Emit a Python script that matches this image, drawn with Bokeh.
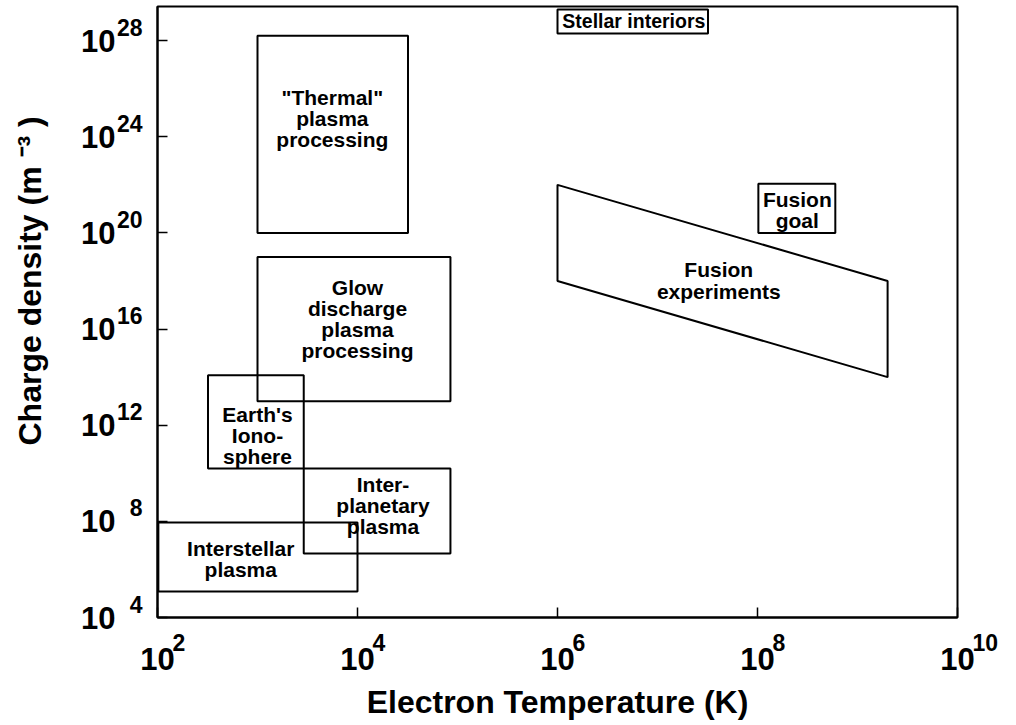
from bokeh.plotting import figure
from bokeh.models import Range1d, FixedTicker, ColumnDataSource
from bokeh.core.properties import value
from bokeh.embed import file_html
from bokeh.resources import INLINE

# ---------------- data ----------------
# rectangular regions: electron temperature (K) and charge density (m^-3)
region_names = ["Thermal plasma processing", "Glow discharge plasma processing",
                "Earth's ionosphere", "Interplanetary plasma", "Interstellar plasma",
                "Fusion goal", "Stellar interiors"]
t_low = [1e3, 1e3, 3.2e2, 2.9e3, 1.02e2, 1.02e8, 1.0e6]
t_high = [3.2e4, 8.5e4, 2.9e3, 8.5e4, 1.0e4, 6.0e8, 3.2e7]
n_low = [1e20, 1e13, 1.6e10, 4.6e6, 1.2e5, 1e20, 2.0e28]
n_high = [1.6e28, 1e19, 1.2e14, 1.6e10, 9.0e7, 1.1e22, 1.95e29]

# fusion experiments parallelogram
fusion_t = [1e6, 2e9, 2e9, 1e6]
fusion_n = [1e22, 1e18, 1e14, 1e18]

# region labels
label_text = ['"Thermal"\nplasma\nprocessing', "Glow\ndischarge\nplasma\nprocessing",
              "Earth's\nIono-\nsphere", "Inter-\nplanetary\nplasma",
              "Interstellar\nplasma", "Fusion\nexperiments", "Fusion\ngoal"]
label_t = [5.6e3, 1.0e4, 1.0e3, 1.8e4, 6.8e2, 4.1e7, 2.5e8]
label_n = [5.8e24, 2.6e16, 3.7e11, 4.6e8, 2.8e6, 1.05e18, 9.3e20]
stellar_text = ["Stellar interiors"]
stellar_t = [5.8e6]
stellar_n = [6.6e28]

# axes
x_ticks = [1e2, 1e4, 1e6, 1e8, 1e10]
x_exps = ["2", "4", "6", "8", "10"]
y_ticks = [1e4, 1e8, 1e12, 1e16, 1e20, 1e24, 1e28]
y_exps = ["4", "8", "12", "16", "20", "24", "28"]
x_lim = (1e2, 1e10)
y_lim = (1e4, 10 ** 29.42)

FONT = "Liberation Sans"

p = figure(x_axis_type="log", y_axis_type="log",
           x_range=Range1d(*x_lim), y_range=Range1d(*y_lim),
           frame_width=800, frame_height=611,
           min_border_left=157, min_border_right=50,
           min_border_top=6, min_border_bottom=100,
           output_backend="svg", toolbar_location=None,
           background_fill_color="white", border_fill_color="white")

p.grid.visible = False
p.outline_line_color = "black"
p.outline_line_width = 2

src = ColumnDataSource(dict(left=t_low, right=t_high, bottom=n_low, top=n_high, name=region_names))
p.quad(left="left", right="right", bottom="bottom", top="top", source=src,
       fill_color=None, line_color="black", line_width=2)
p.patch(fusion_t, fusion_n, fill_color=None, line_color="black", line_width=2)

lsrc = ColumnDataSource(dict(x=label_t, y=label_n, text=label_text))
p.text(x="x", y="y", text="text", source=lsrc, text_align="center",
       text_baseline="middle", text_font=value(FONT), text_font_style="bold",
       text_font_size="21px", text_line_height=0.92, text_color="black")
p.text(x=stellar_t, y=stellar_n, text=stellar_text, text_align="center",
       text_baseline="middle", text_font=value(FONT), text_font_style="bold",
       text_font_size="19.5px", text_color="black")

xa = p.xaxis[0]
ya = p.yaxis[0]
xa.ticker = FixedTicker(ticks=x_ticks)
ya.ticker = FixedTicker(ticks=y_ticks)
xa.major_label_overrides = {t: "10" for t in x_ticks}
ya.major_label_overrides = {t: "10" for t in y_ticks}
xa.axis_label = "Electron Temperature (K)"
ya.axis_label = "\u00a0" * 7 + "Charge density (m \u207b\u00b3 )"
for ax in (xa, ya):
    ax.major_label_text_font = FONT
    ax.major_label_text_font_style = "bold"
    ax.major_label_text_font_size = "31px"
    ax.major_label_text_color = "black"
    ax.axis_label_text_font = FONT
    ax.axis_label_text_font_style = "bold"
    ax.axis_label_text_font_size = "32px"
    ax.axis_label_text_color = "black"
    ax.major_tick_in = 10
    ax.major_tick_out = 0
    ax.major_tick_line_width = 1.5
    ax.major_tick_line_color = "black"
    ax.minor_tick_line_color = None
    ax.axis_line_width = 2
    ax.axis_line_color = "black"
xa.major_label_standoff = 30
xa.axis_label_standoff = 11
ya.major_label_standoff = 42
ya.axis_label_standoff = 30

# superscript exponents of the tick labels (drawn unclipped, above the frame level)
p.text(x=x_ticks, y=[y_lim[0]] * len(x_ticks), text=x_exps, x_offset=15, y_offset=16,
       text_align="left", text_baseline="top", text_font=value(FONT),
       text_font_style="bold", text_font_size="23px", text_color="black", level="overlay")
p.text(x=[x_lim[0]] * len(y_ticks), y=y_ticks, text=y_exps, x_offset=-15, y_offset=-22,
       text_align="right", text_baseline="top", text_font=value(FONT),
       text_font_style="bold", text_font_size="23px", text_color="black", level="overlay")

open("out.html", "w").write(file_html(p, INLINE))
